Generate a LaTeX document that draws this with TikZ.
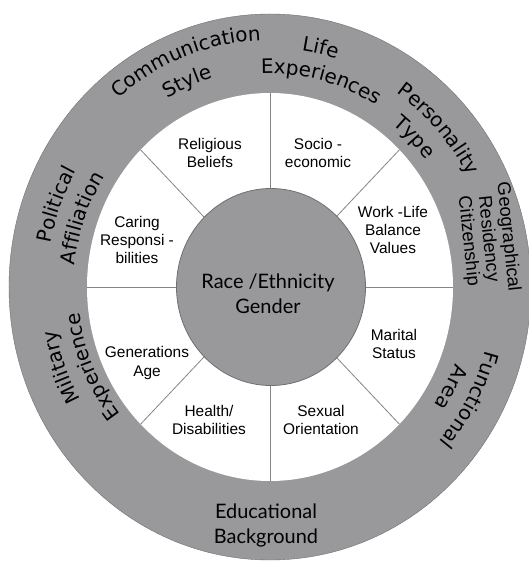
\documentclass[tikz,border=0pt]{standalone}
\usepackage{fontspec}
\setmainfont{Liberation Sans}
\newfontfamily\ringfont{DejaVu Sans}
\newfontfamily\corefont{Lato}
\usetikzlibrary{decorations.text}

\definecolor{ringgray}{RGB}{153,153,156}
\definecolor{edgegray}{RGB}{112,112,115}

\newcommand{\ringstyle}{\ringfont\fontsize{20}{24}\selectfont}
\newcommand{\ringlabel}[3]{%
	\path[decorate,decoration={text along path,text align=center,
		text={|\ringstyle|#3}}]
		({#2*cos(#1+70)},{1.05*#2*sin(#1+70)})
		arc[start angle={#1+70},end angle={#1-70},x radius=#2,y radius={1.05*#2}];}

\begin{document}
\begin{tikzpicture}[x=1bp,y=1bp,
		sector/.style={align=center,font=\fontsize{15.5}{18.5}\selectfont},
		core/.style={align=center,font=\corefont\fontsize{20}{25}\selectfont}]
	\clip (-270,-274) rectangle (259,287);

	\fill[ringgray,draw=edgegray] (0,0) ellipse [x radius=261,y radius=273];
	\fill[white] (0,0) ellipse [x radius=183,y radius=194];
	\foreach \a in {0,45,...,315}
		\draw[edgegray!85,line width=0.8bp] (0,0) -- ({183*cos(\a)},{194*sin(\a)});
	\fill[ringgray,draw=edgegray,line width=0.8bp] (1,0) ellipse [x radius=94.5,y radius=98.5];

	\node[core] (core) at (-2,-7) {Race /Ethnicity\\Gender};

	\node[sector] (religious) at (-60,134) {Religious\\Beliefs};
	\node[sector] (socio) at (48,134) {Socio -\\economic};
	\node[sector] (worklife) at (123,57) {Work -Life\\Balance\\Values};
	\node[sector] (marital) at (124,-57) {Marital\\Status};
	\node[sector] (sexual) at (51,-133) {Sexual\\Orientation};
	\node[sector] (health) at (-61,-133) {Health/\\Disabilities};
	\node[sector] (generations) at (-123,-76) {Generations\\Age};
	\node[sector] (caring) at (-133,47) {Caring\\Responsi -\\bilities};

	\ringlabel{110.5}{235}{Communication}
	\ringlabel{112}{207}{Style}
	\ringlabel{78}{227}{Life}
	\ringlabel{76}{203}{Experiences}
	\ringlabel{43}{224}{Personality}
	\ringlabel{46}{197}{Type}
	\ringlabel{159}{223}{Political}
	\ringlabel{160}{196}{Affiliation}
	\ringlabel{201}{218}{Military}
	\ringlabel{204}{192}{Experience}
	\ringlabel{-29.3}{224}{Functional}
	\ringlabel{-29}{199}{Area}

	\node[sector,font=\fontsize{18.5}{20}\selectfont,rotate=-84] (geo) at (218,48)
		{Geographical\\Residency\\Citizenship};
	\node[core] (educational) at (-4,-238.5) {Educational\\Background};
\end{tikzpicture}
\end{document}
